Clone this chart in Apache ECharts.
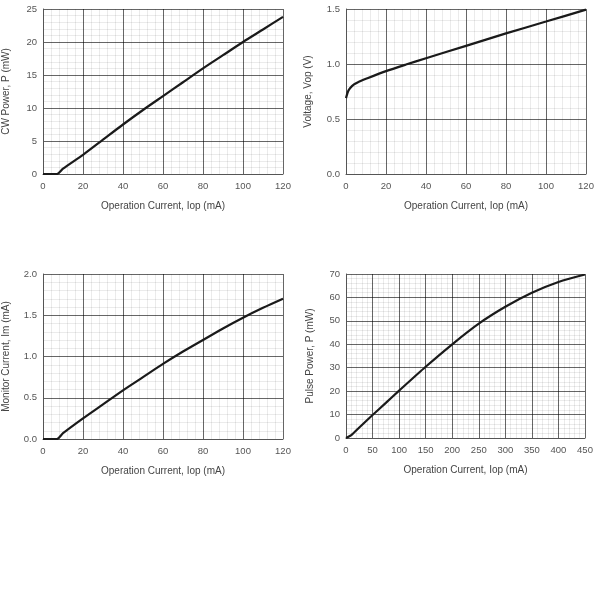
<!DOCTYPE html>
<html><head><meta charset="utf-8">
<script src="https://cdn.jsdelivr.net/npm/echarts@6/dist/echarts.min.js"></script>
<style>html,body{margin:0;padding:0;background:#fff}#c{width:600px;height:600px}</style>
</head><body><div id="c"></div>
<script>
// Chart 1: CW Power vs Operation Current
const cwCurrent = [0, 7, 10, 20, 30, 40, 50, 60, 70, 80, 90, 100, 110, 120];
const cwPower   = [0, 0, 0.8, 2.9, 5.2, 7.5, 9.7, 11.8, 13.9, 16.0, 18.0, 20.0, 21.9, 23.8];
// Chart 2: Voltage vs Operation Current
const vCurrent = [0, 1, 2, 4, 6, 10, 20, 30, 40, 60, 80, 100, 120];
const vVoltage = [0.69, 0.75, 0.78, 0.815, 0.835, 0.865, 0.935, 0.995, 1.052, 1.165, 1.278, 1.386, 1.494];
// Chart 3: Monitor Current vs Operation Current
const imCurrent = [0, 7, 10, 20, 30, 40, 50, 60, 70, 80, 90, 100, 110, 120];
const imMonitor = [0, 0, 0.07, 0.25, 0.42, 0.59, 0.75, 0.91, 1.06, 1.20, 1.34, 1.47, 1.59, 1.70];
// Chart 4: Pulse Power vs Operation Current
const pCurrent = [0, 10, 25, 50, 75, 100, 150, 200, 250, 300, 350, 400, 450];
const pPower   = [0, 1.2, 4.5, 9.8, 15.0, 20.2, 30.4, 40.0, 48.8, 56.0, 62.0, 66.6, 69.8];

const xTitle = 'Operation Current, Iop (mA)';
const yTitles = ['CW Power, P (mW)', 'Voltage, Vop (V)', 'Monitor Current, Im (mA)', 'Pulse Power, P (mW)'];

function zip(a, b) { return a.map((v, i) => [v, b[i]]); }

const fam = 'Liberation Sans, Arial, sans-serif';
const nameTxt = {color: '#444', fontSize: 10, fontFamily: fam};
const tickTxt = {color: '#555', fontSize: 9.5, fontFamily: fam};
const minorStyle = {color: 'rgba(0,0,0,0.08)', width: 1};
const majorStyle = {color: 'rgba(0,0,0,0.6)', width: 1};
function xAx(i, max, interval) {
  return {
    type: 'value', gridIndex: i, min: 0, max: max, interval: interval,
    name: xTitle, nameLocation: 'middle', nameGap: 27, nameTextStyle: nameTxt,
    axisLabel: Object.assign({margin: 7}, tickTxt),
    axisTick: {show: false},
    axisLine: {show: true, lineStyle: {color: '#555', width: 1}},
    splitLine: {show: true, lineStyle: majorStyle},
    minorTick: {show: false, splitNumber: 5},
    minorSplitLine: {show: true, lineStyle: minorStyle}
  };
}
function yAx(i, max, interval, gap, fmt) {
  return {
    type: 'value', gridIndex: i, min: 0, max: max, interval: interval,
    name: yTitles[i], nameLocation: 'middle', nameGap: gap, nameTextStyle: nameTxt,
    axisLabel: Object.assign({margin: 6, formatter: fmt}, tickTxt),
    axisTick: {show: false},
    axisLine: {show: true, lineStyle: {color: '#555', width: 1}},
    splitLine: {show: true, lineStyle: majorStyle},
    minorTick: {show: false, splitNumber: 5},
    minorSplitLine: {show: true, lineStyle: minorStyle}
  };
}
const f1 = v => v.toFixed(1);
const f0 = v => String(v);
function ser(i, data) {
  return {type: 'line', xAxisIndex: i, yAxisIndex: i, data: data, showSymbol: false,
    smooth: 0.25, z: 5,
    lineStyle: {color: '#1a1a1a', width: 2.2}};
}
const chart = echarts.init(document.getElementById('c'), null, {renderer: 'canvas'});
chart.setOption({
  animation: false,
  backgroundColor: '#fff',
  grid: [
    {left: 43, top: 9, width: 240, height: 165},
    {left: 346, top: 9, width: 240, height: 165},
    {left: 43, top: 274, width: 240, height: 165},
    {left: 346, top: 274, width: 239, height: 164}
  ],
  xAxis: [xAx(0, 120, 20), xAx(1, 120, 20), xAx(2, 120, 20), xAx(3, 450, 50)],
  yAxis: [yAx(0, 25, 5, 32, f0), yAx(1, 1.5, 0.5, 33, f1), yAx(2, 2.0, 0.5, 32, f1), yAx(3, 70, 10, 31, f0)],
  series: [
    ser(0, zip(cwCurrent, cwPower)),
    ser(1, zip(vCurrent, vVoltage)),
    ser(2, zip(imCurrent, imMonitor)),
    ser(3, zip(pCurrent, pPower))
  ]
});
</script></body></html>
